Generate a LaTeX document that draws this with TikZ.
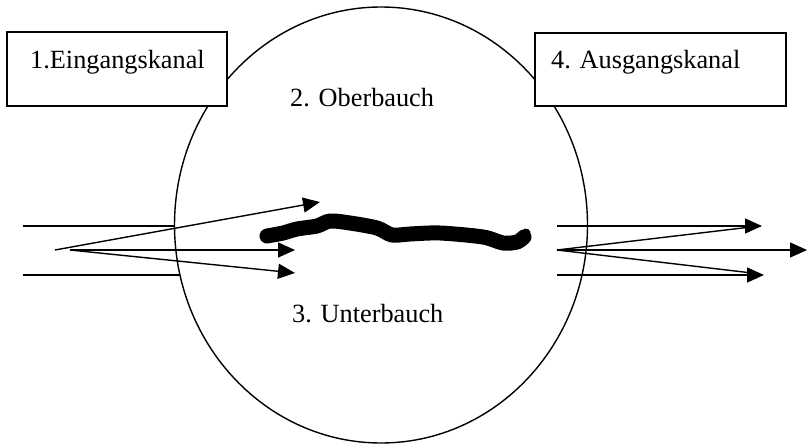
\documentclass[tikz,border=0pt]{standalone}
\usepackage{fontspec}
\setmainfont{Liberation Serif}
\usetikzlibrary{arrows.meta,shapes.geometric}
\begin{document}
\begin{tikzpicture}[x=1pt,y=-1pt,
  thin line/.style={line width=1.4pt},
  arr/.style={thin line,-{Triangle[length=17pt,width=15pt]}},
  box/.style={draw,line width=1.8pt,fill=white,inner sep=0pt},
  lbl/.style={anchor=base west,inner sep=0pt,font=\fontsize{26.3}{30}\selectfont}]
\useasboundingbox (0,0) rectangle (808,444);
% belly
\node[ellipse,draw,line width=1.4pt,minimum width=413pt,minimum height=436pt,inner sep=0pt] (belly) at (381,225) {};
% boxes
\node[box,minimum width=220pt,minimum height=74pt] (inbox) at (117,69) {};
\node[box,minimum width=251pt,minimum height=73pt] (outbox) at (660.5,69.5) {};
\node[lbl] (t1) at (30,68) {1.Eingangskanal};
\node[lbl] (t4) at (551,68) {4. Ausgangskanal};
\node[lbl] (t2) at (290,106) {2. Oberbauch};
\node[lbl] (t3) at (292,322) {3. Unterbauch};
% left side
\coordinate (la) at (23,226); \coordinate (lae) at (174,226);
\coordinate (lb) at (23,275); \coordinate (lbe) at (180,275);
\coordinate (lo) at (55,250); \coordinate (lo2) at (70,250);
\coordinate (l1) at (320,202); \coordinate (l2) at (295,250); \coordinate (l3) at (295,273);
\draw[thin line] (la) -- (lae);
\draw[thin line] (lb) -- (lbe);
\draw[arr] (lo) -- (l1);
\draw[arr] (lo2) -- (l2);
\draw[arr] (lo2) -- (l3);
% right side
\coordinate (ra) at (557,226); \coordinate (rae) at (762,226);
\coordinate (rb) at (557,275); \coordinate (rbe) at (764,275);
\coordinate (ro) at (557,250); \coordinate (rm) at (807,250);
\coordinate (rd1) at (751,227); \coordinate (rd2) at (752,273);
\draw[arr] (ra) -- (rae);
\draw[arr] (rb) -- (rbe);
\draw[arr] (ro) -- (rm);
\draw[thin line] (ro) -- (rd1);
\draw[thin line] (ro) -- (rd2);
% thick squiggle
\draw[line width=15pt,line cap=round,line join=round] plot[smooth,tension=0.5] coordinates {
 (267,236) (283,233) (297,229) (317,226) (330,221) (350,223) (377,228) (392,235)
 (410,234) (440,233) (483,237) (503,243) (517,242) (524,237)};
\draw[line width=9pt,line cap=round] (522,240) -- (526,233);
\end{tikzpicture}
\end{document}
